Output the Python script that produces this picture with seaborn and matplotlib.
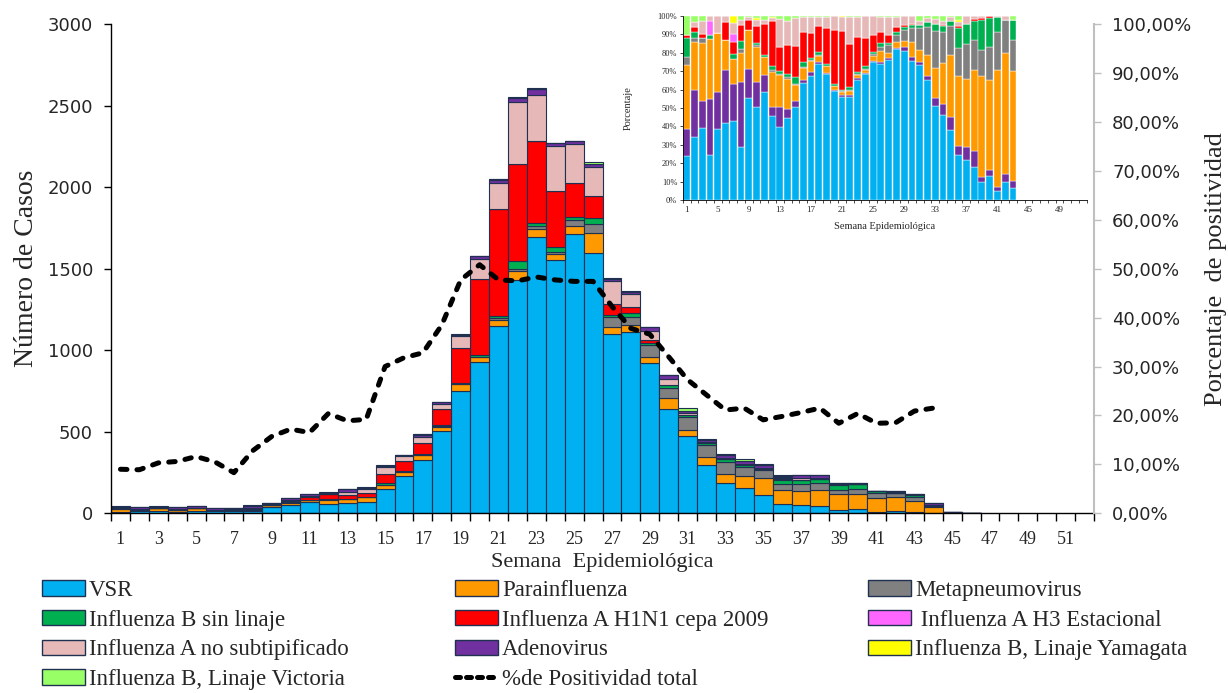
import numpy as np
import pandas as pd
import matplotlib
matplotlib.use("Agg")
import matplotlib.pyplot as plt
import seaborn as sns
from matplotlib.patches import Patch
from matplotlib.lines import Line2D
from matplotlib.ticker import FuncFormatter

# ---------------- data ----------------
weeks = list(range(1, 47))
total_cases = [42, 38, 42, 38, 42, 30, 32, 48, 65, 95, 118, 128, 152, 160, 296, 358, 486, 685,
               1100, 1575, 2050, 2555, 2610, 2270, 2285, 2152, 1442, 1360, 1140, 845, 644, 456,
               362, 331, 300, 233, 233, 233, 184, 188, 139, 135, 118, 63, 8, 4]

# composition of positive cases per week (%)
vsr = [24, 34.1, 39, 24.6, 38.6, 41.9, 43.2, 28.6, 55.6, 50.5, 58.7, 45.9, 39.9, 44.6, 50.5, 63.6,
       67.2, 73.8, 68.3, 59, 55.9, 55.9, 65, 68.3, 75, 74.1, 76.3, 81.8, 81.1, 75.5, 73.3, 65.1,
       50.9, 46.4, 37.8, 24.7, 22, 18.2, 10, 13.3, 5.1, 9.6, 6.4, 5, 0, 0]
parainfluenza = [34.6, 25.6, 31.8, 32.4, 32.2, 16.4, 13.7, 15.9, 20.9, 18.9, 10, 19.1, 17.3, 16.4,
                 8.6, 6.5, 6, 3.5, 3.7, 1.7, 1.9, 2.2, 1.8, 1.8, 2.2, 5.9, 3, 2.9, 3.1, 7.8, 6.4,
                 11.2, 16, 22.5, 34, 37.9, 37.3, 44.4, 55.1, 48.6, 63.2, 65.8, 59.7, 60, 0, 0]
metapneumovirus = [4.6, 2.7, 2.4, 0, 0, 0, 0, 1.8, 0, 1, 0, 1.3, 0.9, 0.9, 0.5, 0.4, 0.7, 0.5, 0,
                   0, 0.5, 0.6, 0.6, 0.5, 1.4, 2.3, 4.2, 4, 6.3, 7.7, 12.1, 15.5, 20.3, 16.6, 15.7,
                   14.9, 19, 16, 14, 18.2, 21, 17.8, 16.7, 10, 25, 0]
flu_b_sin_linaje = [10, 3.1, 0, 2.4, 0, 0, 2.7, 4.5, 0, 1.5, 0.9, 1.8, 1.4, 1.9, 4, 2.7, 1.1, 1.5,
                    0.9, 1.1, 0.8, 1.8, 0.9, 1.3, 0.9, 1.9, 0.9, 1.8, 1.3, 1.8, 1.5, 2.3, 4, 3.4,
                    2.8, 11.2, 10.5, 10.6, 16.3, 15.8, 8.1, 0, 10.9, 5, 75, 0]
h1n1 = [2, 2.8, 2.2, 0, 0, 9.6, 6.4, 8.7, 5.5, 9, 17.1, 24.6, 13.1, 15.3, 17, 16.4, 13.6, 14, 19.5,
        29.5, 32, 23.3, 19.1, 15.1, 9.2, 6.3, 4.5, 2.4, 1.3, 0.4, 0, 0, 0, 0.5, 0, 0.9, 0, 0.9,
        0.9, 0.9, 0, 0, 0, 0, 0, 0]
h3 = [0, 0, 0, 7.5, 0, 0, 4, 0, 0, 0, 0, 0, 0, 0.5, 0, 0, 0, 0, 0, 0, 0, 0, 0, 0, 0, 0, 0, 0, 0,
      0, 0, 0, 0, 0, 0, 0, 0, 0, 0, 0, 0, 0, 0, 0, 0, 0]
flu_a_no_subtip = [0, 2.8, 7.3, 2.7, 9.1, 3.5, 6.4, 2.8, 1.4, 3.3, 2, 1.4, 15.2, 12.8, 14.9, 8.2,
                   8.2, 4.8, 6.3, 7.7, 7.6, 14.9, 10.9, 12.2, 10.3, 8.2, 10, 5.8, 4.9, 4.5, 2.4,
                   2.2, 2.4, 2.3, 2, 2.3, 4.5, 1.6, 1.3, 0, 0.4, 2.2, 0, 0, 0, 0]
adenovirus = [14.6, 25.9, 14.6, 30.4, 20.1, 28.6, 20, 35.5, 15.8, 13.6, 9.1, 4.6, 10.6, 4.9, 3.2,
              1.8, 2.4, 1.2, 0.9, 1, 0.9, 0.9, 1.3, 0.8, 0.8, 0.9, 0.7, 0.9, 2, 2.3, 1.8, 2.4,
              4.6, 5.6, 7.2, 4.9, 6.7, 8.3, 2.4, 3.2, 2.2, 4.6, 4.1, 20, 0, 100]
yamagata = [0, 0, 0, 0, 0, 0, 3.6, 0, 0, 1.2, 0, 0.9, 0, 0, 0, 0, 0.4, 0, 0, 0, 0.4, 0, 0, 0, 0,
            0, 0, 0, 0, 0, 0, 0, 0, 0, 0, 1.0, 0, 0, 0, 0, 0, 0, 0, 0, 0, 0]
victoria = [10.2, 3, 2.7, 0, 0, 0, 0, 2.2, 0.8, 1, 2.2, 0.4, 1.6, 2.7, 1.3, 0.4, 0.4, 0.7, 0.4,
            0, 0, 0.4, 0.4, 0, 0.2, 0.4, 0.4, 0.4, 0, 0, 2.5, 1.3, 1.8, 2.7, 0.5, 2.2, 0, 0, 0,
            0, 0, 0, 2.2, 0, 0, 0]

positividad_weeks = list(range(1, 45))
positividad = [9.0, 8.9, 10.3, 10.6, 11.6, 10.5, 8.3, 12.8, 15.7, 17.2, 16.5, 20.4, 18.9, 19.2,
               30.0, 31.8, 32.8, 38.5, 47.7, 50.8, 47.7, 47.5, 48.3, 47.7, 47.4, 47.4, 42.3,
               37.8, 36.6, 32.0, 27.3, 24.2, 21.1, 21.5, 19.1, 19.8, 20.6, 21.5, 18.4, 20.4,
               18.4, 18.5, 20.9, 21.5]

labels = ["VSR", "Parainfluenza", "Metapneumovirus", "Influenza B sin linaje",
          "Influenza A H1N1 cepa 2009", "Influenza A H3 Estacional",
          "Influenza A no subtipificado", "Adenovirus", "Influenza B, Linaje Yamagata",
          "Influenza B, Linaje Victoria"]
series = [vsr, parainfluenza, metapneumovirus, flu_b_sin_linaje, h1n1, h3, flu_a_no_subtip,
          adenovirus, yamagata, victoria]
colors = ["#00B0F0", "#FF9900", "#808080", "#00B050", "#FF0000", "#FF66FF", "#E6B9B8",
          "#7030A0", "#FFFF00", "#99FF66"]
inset_weeks = 43
# ---------------------------------------

palette = dict(zip(labels, colors))
pct = np.array(series, dtype=float)
pct = pct / pct.sum(axis=0)
counts = pct * np.array(total_cases, dtype=float)

rows = []
for i, lab in enumerate(labels):
    for j, w in enumerate(weeks):
        rows.append({"week": w, "virus": lab, "casos": counts[i, j]})
df = pd.DataFrame(rows)

sns.set_theme(style="white")
plt.rcParams["font.family"] = ["Liberation Serif", "DejaVu Sans"]

W, H = 1228, 693
fig = plt.figure(figsize=(W / 100, H / 100), dpi=100)
ax = fig.add_axes([111 / W, 1 - 513.3 / H, (1094 - 111) / W, (513.3 - 24) / H])

# stacked bars (first label at the bottom)
sns.histplot(data=df, x="week", weights="casos", hue="virus", hue_order=labels[::-1],
             multiple="stack", discrete=True, shrink=1.0, palette=palette, alpha=1,
             edgecolor="#1F3050", linewidth=0.8, legend=False, ax=ax)

ax.set_xlim(0.5, 52.5)
ax.set_ylim(0, 3000)
ax.set_xticks(range(1, 53, 2))
ax.set_xticklabels([str(v) for v in range(1, 53, 2)], fontsize=13, family="Liberation Serif")
ax.set_xticks(np.arange(0.5, 53, 1), minor=True)
ax.tick_params(axis="x", which="major", length=0, pad=13)
ax.tick_params(axis="x", which="minor", length=6, width=1, color="black", direction="out",
               bottom=True)
ax.set_yticks(range(0, 3001, 500))
ax.set_yticklabels([str(v) for v in range(0, 3001, 500)], fontsize=13, family="DejaVu Sans")
ax.tick_params(axis="y", length=5, width=1, color="black", direction="out", left=True, pad=8)
for s in ["top", "right"]:
    ax.spines[s].set_visible(False)
for s in ["left", "bottom"]:
    ax.spines[s].set_color("black")
    ax.spines[s].set_linewidth(1)
ax.set_xlabel("Semana  Epidemiológica", fontsize=16, labelpad=3)
ax.set_ylabel("Número de Casos", fontsize=20, labelpad=6)

# positivity line on right axis
ax2 = ax.twinx()
sns.lineplot(x=positividad_weeks, y=np.array(positividad) / 100, ax=ax2, color="black",
             linewidth=3.6, linestyle=(0, (1.3, 2.0)), dash_capstyle="round", legend=False)
ax2.set_ylim(0, 1)
ax2.set_xlim(0.5, 52.5)
ax2.set_yticks(np.arange(0, 1.001, 0.1))
ax2.yaxis.set_major_formatter(FuncFormatter(lambda v, p: f"{v * 100:.2f}%".replace(".", ",")))
for t in ax2.get_yticklabels():
    t.set_family("DejaVu Sans")
ax2.tick_params(axis="y", labelsize=13, length=5, width=1, color="#BFBFBF", direction="out",
                right=True, pad=8)
for s in ["top", "left", "bottom"]:
    ax2.spines[s].set_visible(False)
ax2.spines["right"].set_color("#BFBFBF")
ax2.spines["right"].set_linewidth(1.5)
ax2.set_ylabel("Porcentaje  de positividad", fontsize=19, labelpad=10)

# inset: 100% stacked composition
inset_order = ["VSR", "Adenovirus", "Parainfluenza", "Metapneumovirus", "Influenza B sin linaje",
               "Influenza A H1N1 cepa 2009", "Influenza A H3 Estacional",
               "Influenza A no subtipificado", "Influenza B, Linaje Yamagata",
               "Influenza B, Linaje Victoria"]
dfi = df[df["week"] <= inset_weeks]
axi = fig.add_axes([682.8 / W, 1 - 200 / H, 404 / W, 184 / H])
sns.histplot(data=dfi, x="week", weights="casos", hue="virus", hue_order=inset_order[::-1],
             multiple="fill", discrete=True, shrink=0.88, palette=palette, alpha=1,
             edgecolor="white", linewidth=0.3, legend=False, ax=axi)
axi.set_xlim(0.5, 52.5)
axi.set_ylim(0, 1)
axi.set_yticks(np.arange(0, 1.001, 0.1))
axi.set_yticklabels([f"{int(round(v * 100))}%" for v in np.arange(0, 1.001, 0.1)], fontsize=6)
axi.set_xticks(range(1, 53, 4))
axi.set_xticklabels([str(v) for v in range(1, 53, 4)], fontsize=6.5)
axi.set_xticks(np.arange(0.5, 53, 1), minor=True)
axi.tick_params(axis="x", which="major", length=0, pad=4)
axi.tick_params(axis="x", which="minor", length=2, width=0.5, color="black", bottom=True)
axi.tick_params(axis="y", length=2, width=0.5, color="black", left=True, pad=2)
for s in ["top", "right"]:
    axi.spines[s].set_visible(False)
for s in ["left", "bottom"]:
    axi.spines[s].set_color("black")
    axi.spines[s].set_linewidth(0.6)
axi.set_xlabel("Semana Epidemiológica", fontsize=7.5, labelpad=6)
axi.set_ylabel("Porcentaje", fontsize=7.5, labelpad=18)
axi.patch.set_alpha(0)

# legend (row-major, three columns)
def patch(lab):
    return Patch(facecolor=palette[lab], edgecolor="#1F3050", linewidth=1)

col1 = [(patch(labels[0]), "VSR"), (patch(labels[3]), "Influenza B sin linaje"),
        (patch(labels[6]), "Influenza A no subtipificado"),
        (patch(labels[9]), "Influenza B, Linaje Victoria")]
col2 = [(patch(labels[1]), "Parainfluenza"), (patch(labels[4]), "Influenza A H1N1 cepa 2009"),
        (patch(labels[7]), "Adenovirus"),
        (Line2D([0], [0], color="black", linewidth=3.6, linestyle=(0, (1.0, 1.2)),
                dash_capstyle="round"), "%de Positividad total")]
col3 = [(patch(labels[2]), "Metapneumovirus"), (patch(labels[5]), " Influenza A H3 Estacional"),
        (patch(labels[8]), "Influenza B, Linaje Yamagata")]
for col, x0 in [(col1, 42), (col2, 455), (col3, 868)]:
    fig.legend([h for h, _ in col], [t for _, t in col], loc="upper left",
               bbox_to_anchor=(x0 / W, 1 - 580 / H), frameon=False, fontsize=16.5,
               handlelength=1.87, handleheight=0.65, handletextpad=0.18, labelspacing=0.38,
               borderpad=0, borderaxespad=0)

fig.savefig("out.png", dpi=100)
